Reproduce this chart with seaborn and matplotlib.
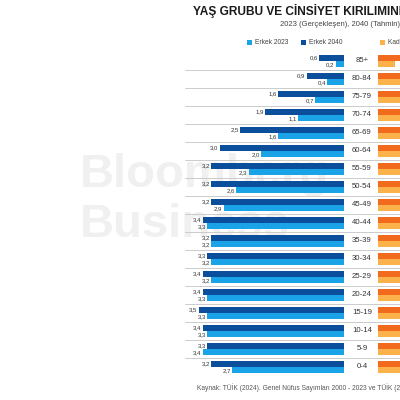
import pandas as pd
import numpy as np
import matplotlib.pyplot as plt
import seaborn as sns

# age groups, top to bottom
ages = ['85+', '80-84', '75-79', '70-74', '65-69', '60-64', '55-59', '50-54', '45-49',
        '40-44', '35-39', '30-34', '25-29', '20-24', '15-19', '10-14', '5-9', '0-4']

# male shares (%) as labelled on the chart
erkek_2040 = [0.6, 0.9, 1.6, 1.9, 2.5, 3.0, 3.2, 3.2, 3.2, 3.4, 3.2, 3.3, 3.4, 3.4, 3.5, 3.4, 3.3, 3.2]
erkek_2023 = [0.2, 0.4, 0.7, 1.1, 1.6, 2.0, 2.3, 2.6, 2.9, 3.3, 3.2, 3.2, 3.2, 3.3, 3.3, 3.3, 3.4, 2.7]

# female side is cut off at the right edge; rough estimates
kadin_2040 = [0.9, 1.2, 1.9, 2.1, 2.6, 3.0, 3.2, 3.2, 3.1, 3.3, 3.1, 3.2, 3.2, 3.2, 3.3, 3.2, 3.1, 3.0]
kadin_2023 = [0.4, 0.6, 0.9, 1.3, 1.7, 2.1, 2.3, 2.6, 2.8, 3.2, 3.1, 3.1, 3.1, 3.1, 3.1, 3.1, 3.2, 2.6]

c_dark_blue = '#0b4f9c'
c_light_blue = '#1aa3e6'
c_dark_orange = '#f26a1e'
c_light_orange = '#fbb24a'

men = pd.DataFrame({
    'age': ages * 2,
    'value': [-v for v in erkek_2040] + [-v for v in erkek_2023],
    'series': ['Erkek 2040'] * len(ages) + ['Erkek 2023'] * len(ages),
})
women = pd.DataFrame({
    'age': ages * 2,
    'value': kadin_2040 + kadin_2023,
    'series': ['Kadın 2040'] * len(ages) + ['Kadın 2023'] * len(ages),
})

sns.set_theme(style='white')
plt.rcParams['font.family'] = ['Liberation Sans', 'DejaVu Sans']

fig = plt.figure(figsize=(4, 4), dpi=100)
fig.patch.set_facecolor('white')

px = 41.5  # pixels per percentage point
zero_px = 344

# watermark, behind everything
fig.text(80 / 400, 1 - 187 / 400, 'Bloomberg', fontsize=34, fontweight='bold',
         color='#f0f0f0', ha='left', va='baseline', zorder=-1)
fig.text(80 / 400, 1 - 237 / 400, 'Business', fontsize=34, fontweight='bold',
         color='#f0f0f0', ha='left', va='baseline', zorder=-1)

# men (left) axes: from 185 px to right edge
ax = fig.add_axes([185 / 400, 24 / 400, 215 / 400, 324 / 400])
ax.patch.set_alpha(0)
sns.barplot(data=men, y='age', x='value', hue='series', order=ages,
            hue_order=['Erkek 2040', 'Erkek 2023'],
            palette=[c_dark_blue, c_light_blue], width=0.72, orient='h',
            saturation=1, ax=ax, legend=False, linewidth=0)
ax.set_xlim(-(zero_px - 185) / px, (400 - zero_px) / px)
ax.set_ylim(len(ages) - 0.5, -0.5)
ax.set_axis_off()

for i in range(len(ages) - 1):
    ax.axhline(i + 0.5, color='#c4c4c4', lw=0.6, zorder=0)

for i, age in enumerate(ages):
    ax.text(-erkek_2040[i] - 0.03, i - 0.2, f'{erkek_2040[i]:.1f}'.replace('.', ','),
            ha='right', va='center', fontsize=4.3, color='#333333')
    ax.text(-erkek_2023[i] - 0.03, i + 0.2, f'{erkek_2023[i]:.1f}'.replace('.', ','),
            ha='right', va='center', fontsize=4.3, color='#333333')
    ax.text((362 - zero_px) / px, i, age, ha='center', va='center',
            fontsize=5.6, color='#333333')

# women (right) axes, mostly outside the visible area
ax2 = fig.add_axes([378 / 400, 24 / 400, 160 / 400, 324 / 400])
ax2.patch.set_alpha(0)
sns.barplot(data=women, y='age', x='value', hue='series', order=ages,
            hue_order=['Kadın 2040', 'Kadın 2023'],
            palette=[c_dark_orange, c_light_orange], width=0.72, orient='h',
            saturation=1, ax=ax2, legend=False, linewidth=0)
ax2.set_xlim(0, 3.8)
ax2.set_ylim(len(ages) - 0.5, -0.5)
ax2.set_axis_off()

# titles
fig.text(193 / 400, 1 - 11 / 400, 'YAŞ GRUBU VE CİNSİYET KIRILIMINDA NÜFUS',
         fontsize=8.6, fontweight='bold', color='#1a1a1a', ha='left', va='center')
fig.text(280 / 400, 1 - 25 / 400, '2023 (Gerçekleşen), 2040 (Tahmin)',
         fontsize=5.5, color='#444444', ha='left', va='center')

# legend
legend_items = [(247, 'Erkek 2023', c_light_blue), (301, 'Erkek 2040', c_dark_blue),
                (380, 'Kadın 2023', c_light_orange)]
for x0, label, col in legend_items:
    fig.patches.append(plt.Rectangle((x0 / 400, 1 - 45 / 400), 5 / 400, 5 / 400,
                                     transform=fig.transFigure, color=col, lw=0))
    fig.text((x0 + 8) / 400, 1 - 42.5 / 400, label, fontsize=4.8, color='#444444',
             ha='left', va='center')

# source
fig.text(197 / 400, 1 - 388 / 400,
         'Kaynak: TÜİK (2024). Genel Nüfus Sayımları 2000 - 2023 ve TÜİK (2018). Nüfus Projeksiyonları',
         fontsize=4.8, color='#555555', ha='left', va='center')

fig.savefig('out.png', dpi=100, facecolor='white')
